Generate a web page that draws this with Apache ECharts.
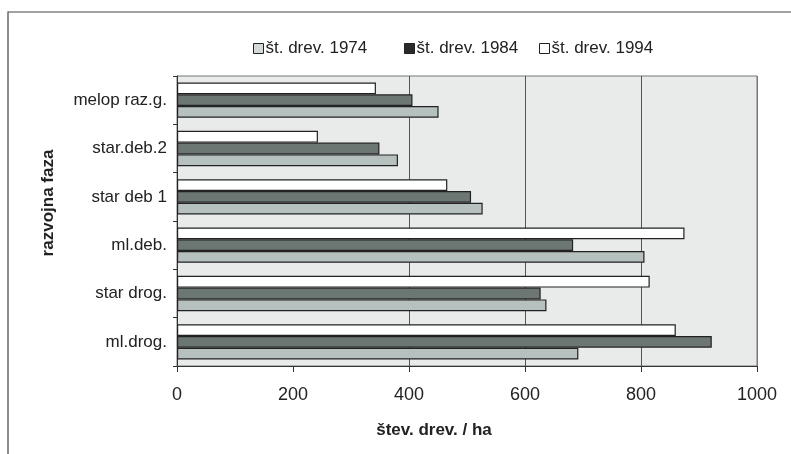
<!DOCTYPE html>
<html><head><meta charset="utf-8">
<script src="https://cdn.jsdelivr.net/npm/echarts@6/dist/echarts.min.js"></script>
<style>html,body{margin:0;padding:0;background:#fff}#c{width:791px;height:454px}</style>
</head><body><div id="c"></div>
<script>
const categories = ['ml.drog.', 'star drog.', 'ml.deb.', 'star deb 1', 'star.deb.2', 'melop raz.g.'];
const seriesNames = ['št. drev. 1974', 'št. drev. 1984', 'št. drev. 1994'];
const values1974 = [692, 637, 806, 527, 381, 451];
const values1984 = [922, 627, 683, 507, 349, 406];
const values1994 = [860, 815, 875, 466, 243, 343];
const xTicks = [0, 200, 400, 600, 800, 1000];

const chart = echarts.init(document.getElementById('c'), null, {renderer: 'canvas'});
const font = 'Liberation Sans, Arial, sans-serif';
const colors = ['#b6c0be', '#6c7774', '#ffffff'];
const legendIconColors = ['#d3d9d8', '#2a2a2a', '#ffffff'];
const vals = [values1974, values1984, values1994];
const legendLeft = [248, 399, 534];
const order = [2, 1, 0];

chart.setOption({
  animation: false,
  graphic: [{
    type: 'rect', shape: {x: 8, y: 12, width: 800, height: 460},
    style: {fill: 'none', stroke: '#444', lineWidth: 1.2}, z: 0
  }],
  legend: seriesNames.map((n, i) => ({
    data: [{name: n, itemStyle: {color: legendIconColors[i], borderColor: '#222', borderWidth: 1}}],
    left: legendLeft[i], top: 35, itemWidth: 10, itemHeight: 10, itemGap: 2, icon: 'rect',
    textStyle: {fontFamily: font, fontSize: 17, color: '#222', padding: [0, 0, 0, -3]}
  })),
  grid: {left: 177, right: 34, top: 76, bottom: 88, show: true, backgroundColor: '#e9ebeb', borderColor: '#777', borderWidth: 1},
  xAxis: {
    type: 'value', min: xTicks[0], max: xTicks[xTicks.length - 1], interval: 200,
    name: 'štev. drev. / ha', nameLocation: 'middle', nameGap: 56,
    nameTextStyle: {fontFamily: font, fontSize: 17, fontWeight: 'bold', color: '#222', padding: [0, 66, 0, 0]},
    axisLine: {show: true, lineStyle: {color: '#333'}},
    axisTick: {show: true, length: 6, lineStyle: {color: '#333'}},
    axisLabel: {fontFamily: font, fontSize: 18, color: '#222', margin: 20, formatter: v => String(v)},
    splitLine: {show: true, lineStyle: {color: ['#777', 'rgba(0,0,0,0)', '#555', '#555', '#555', '#777']}}
  },
  yAxis: {
    type: 'category', data: categories,
    name: 'razvojna faza', nameLocation: 'middle', nameGap: 120,
    nameTextStyle: {fontFamily: font, fontSize: 17, fontWeight: 'bold', color: '#222', padding: [0, 0, 0, 36]},
    axisLine: {show: true, lineStyle: {color: '#333'}},
    axisTick: {show: true, length: 4, lineStyle: {color: '#333'}},
    axisLabel: {fontFamily: font, fontSize: 17, color: '#222', margin: 10}
  },
  series: order.map(i => ({
    name: seriesNames[i], type: 'bar', data: vals[i], barGap: '0%', barCategoryGap: '27%',
    itemStyle: {color: colors[i], borderColor: '#222', borderWidth: 1.2}
  }))
});
</script></body></html>
